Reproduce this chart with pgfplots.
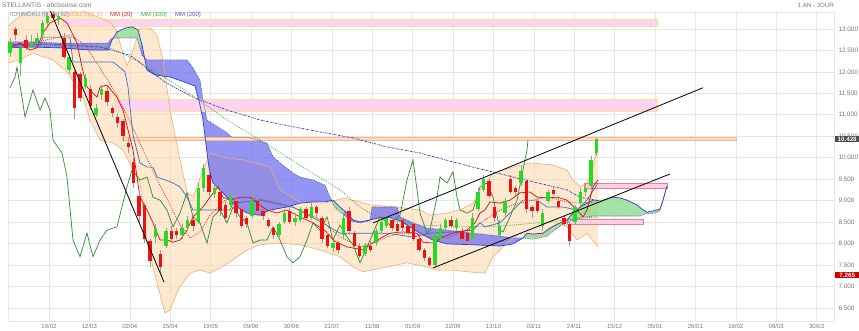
\documentclass[border=0pt]{standalone}
\usepackage{fontspec}
\setmainfont{Liberation Sans}
\usepackage{pgfplots}
\pgfplotsset{compat=1.18}
\usepgfplotslibrary{fillbetween}
\usepackage{pgfplotstable}

\definecolor{gridc}{HTML}{E6E6E6}
\definecolor{bbfill}{HTML}{FCD8B0}
\definecolor{bbline}{HTML}{F2AE74}
\definecolor{cloudblue}{HTML}{7070EE}
\definecolor{cloudgreen}{HTML}{8EDB8E}
\definecolor{spanA}{HTML}{2A3FCC}
\definecolor{mmtwo}{HTML}{2B2BB8}
\definecolor{mmone}{HTML}{30B030}
\definecolor{mmred}{HTML}{E82020}
\definecolor{tenkan}{HTML}{CC1111}
\definecolor{kijun}{HTML}{3A70B5}
\definecolor{chikou}{HTML}{2E8B2E}
\definecolor{cgreen}{HTML}{22DD22}
\definecolor{cred}{HTML}{EE1111}
\definecolor{zonepink}{HTML}{FCD3F0}
\definecolor{zoneyel}{HTML}{FFE08A}
\definecolor{zoneor}{HTML}{FBDCC4}
\definecolor{zoneorb}{HTML}{F4B88A}
\definecolor{zonepk}{HTML}{FFD0E4}
\definecolor{zonepkb}{HTML}{EE7E96}
\definecolor{txtgray}{HTML}{777777}

\pgfplotstableread{
i o h l c
0 12.45 12.80 12.35 12.70
1 13.00 13.05 12.75 12.85
2 12.20 12.60 11.90 12.55
3 12.75 12.85 12.50 12.55
4 12.60 12.85 12.55 12.70
5 12.70 12.90 12.65 12.80
6 12.85 13.20 12.80 13.15
7 13.15 13.40 13.10 13.30
8 13.35 13.42 13.20 13.25
9 13.20 13.40 13.10 13.30
10 12.80 12.90 12.30 12.35
11 12.05 12.40 11.95 12.35
12 12.00 12.05 10.90 11.15
13 11.95 12.00 11.30 11.40
14 11.65 11.95 11.60 11.85
15 11.60 11.70 11.10 11.20
16 11.00 11.25 10.95 11.15
17 11.45 11.70 11.35 11.60
18 11.55 11.65 11.20 11.30
19 11.15 11.20 10.95 11.05
20 10.95 11.05 10.70 10.80
21 10.85 10.90 10.40 10.50
22 10.35 10.45 10.10 10.25
23 9.90 10.00 9.30 9.40
24 9.10 9.20 8.50 8.65
25 8.90 8.95 8.00 8.10
26 8.05 8.10 7.45 7.60
27 8.15 8.45 8.00 8.35
28 7.75 7.85 7.30 7.45
29 7.95 8.35 7.90 8.30
30 8.30 8.40 8.00 8.10
31 8.30 8.35 8.10 8.20
32 8.20 8.45 8.10 8.35
33 8.35 8.65 8.30 8.55
34 8.55 8.60 8.30 8.40
35 8.50 9.40 8.45 9.30
36 9.30 9.85 9.20 9.75
37 9.60 9.70 9.10 9.20
38 9.15 9.40 9.05 9.30
39 9.20 9.30 8.65 8.75
40 8.90 9.00 8.50 8.60
41 8.90 9.20 8.85 9.10
42 9.00 9.05 8.60 8.70
43 8.80 8.85 8.35 8.40
44 8.60 8.65 8.35 8.45
45 8.65 9.35 8.60 9.00
46 9.00 9.05 8.65 8.75
47 8.75 8.80 8.55 8.65
48 8.55 8.60 8.35 8.40
49 8.35 8.40 8.10 8.20
50 8.20 8.50 8.15 8.45
51 8.50 8.80 8.45 8.70
52 8.75 8.85 8.45 8.50
53 8.50 8.70 8.40 8.60
54 8.55 8.85 8.50 8.80
55 8.80 8.85 8.55 8.60
56 8.60 8.95 8.55 8.85
57 8.85 8.90 8.60 8.70
58 8.60 8.65 8.00 8.10
59 8.20 8.25 7.90 7.95
60 7.90 8.05 7.80 8.00
61 8.00 8.05 7.75 7.85
62 8.20 8.70 8.10 8.60
63 8.75 8.85 8.20 8.30
64 8.25 8.30 7.90 7.95
65 7.95 8.00 7.65 7.70
66 7.75 8.00 7.70 7.95
67 7.95 8.05 7.80 7.85
68 8.00 8.35 7.95 8.30
69 8.30 8.55 8.25 8.50
70 8.40 8.65 8.35 8.60
71 8.55 8.60 8.30 8.35
72 8.45 8.50 8.20 8.30
73 8.55 8.60 8.30 8.35
74 8.40 8.50 8.20 8.25
75 8.45 8.50 8.05 8.10
76 8.10 8.15 7.80 7.85
77 7.85 7.90 7.60 7.65
78 7.65 7.70 7.45 7.50
79 7.50 8.30 7.45 8.20
80 8.10 8.45 8.05 8.35
81 8.35 8.60 8.30 8.55
82 8.55 8.65 8.35 8.40
83 8.35 8.60 8.30 8.55
84 8.30 8.35 8.05 8.10
85 8.25 8.30 8.00 8.05
86 8.10 8.70 8.05 8.60
87 8.80 9.30 8.75 9.20
88 9.25 9.60 9.20 9.50
89 9.45 9.50 9.05 9.10
90 8.85 8.90 8.50 8.60
91 8.20 8.55 8.15 8.40
92 8.70 9.05 8.60 9.00
93 9.50 9.60 9.15 9.20
94 9.30 9.35 9.10 9.20
95 9.40 9.80 9.35 9.70
96 9.45 9.50 8.70 8.80
97 8.85 8.90 8.60 8.75
98 9.00 9.10 8.70 8.75
99 8.40 8.80 8.30 8.70
100 9.00 9.25 8.95 9.20
101 9.25 9.35 9.10 9.15
102 9.00 9.05 8.80 8.85
103 8.60 8.65 8.40 8.45
104 8.45 8.50 7.95 8.05
105 8.50 8.90 8.45 8.85
106 8.95 9.30 8.90 9.20
107 9.20 9.40 9.10 9.30
108 9.35 10.05 9.25 9.95
109 10.10 10.47 10.05 10.43
}\candles

\begin{document}
\begin{tikzpicture}[x=1pt,y=1pt]
\path (0,0) rectangle (859,331);
% legend row (drawn first so the chart covers it)
\begin{scope}[every node/.style={anchor=west, inner sep=0pt, font=\fontsize{6}{7}\selectfont}]
\node[text=kijun!80] at (10,316) {ICHIMOKU (9, 26, 52)};
\node[text=bbline] at (68,316) {BOLL (20, 2)};
\node[text=mmred] at (110,316) {MM (20)};
\node[text=mmone] at (141,316) {MM (100)};
\node[text=mmtwo!80] at (175,316) {MM (200)};
\end{scope}

\begin{axis}[
  at={(8pt,10pt)}, anchor=south west, scale only axis,
  width=826pt, height=309pt,
  xmin=8, xmax=834, ymin=6.193, ymax=13.396,
  axis line style={draw=gridc},
  tick style={draw=none},
  grid=major, major grid style={draw=gridc, line width=0.6pt},
  xtick={49,89.4,129.8,170.2,210.6,251,291.4,331.8,372.2,412.6,453,493.4,533.8,574.2,614.6,655,695.4,735.8,776.2,816.6},
  xticklabels={19/02,12/03,02/04,25/04,19/05,09/06,30/06,21/07,11/08,01/09,22/09,13/10,03/11,24/11,15/12,05/01,26/01,16/02,09/03,30/03},
  ytick={6.5,7,7.5,8,8.5,9,9.5,10,10.5,11,11.5,12,12.5,13},
  yticklabel pos=right,
  scaled y ticks=false,
  /pgf/number format/assume math mode=true,
  y tick label style={/pgf/number format/fixed, /pgf/number format/fixed zerofill, /pgf/number format/precision=3, /pgf/number format/assume math mode=true, font=\fontsize{6.4}{7}\selectfont, text=txtgray, xshift=1pt},
  x tick label style={font=\fontsize{6}{7}\selectfont, text=txtgray},
]
% zones
\addplot[fill=zonepink, draw=zoneyel, line width=0.6pt, forget plot] coordinates {(62,13.07) (657,13.07) (657,13.22) (62,13.22)} -- cycle;
\addplot[fill=zonepink, draw=zoneyel, line width=0.8pt, forget plot] coordinates {(114,11.07) (657,11.07) (657,11.36) (114,11.36)} -- cycle;
\addplot[fill=zoneor, draw=zoneorb, line width=0.6pt, forget plot] coordinates {(122,10.40) (736,10.40) (736,10.47) (122,10.47)} -- cycle;

% Bollinger
\addplot[name path=bbU, bbline, line width=0.6pt, forget plot] coordinates {
(8,13.07) (20,13.30) (35,13.49) (65,13.56) (85,13.40) (100,13.26) (110,13.16) (116,12.98) (122,12.51) (127,12.14) (133,12.51) (140,13.02) (150,13.02) (157,12.86) (163,12.28) (170,11.11) (180,9.95) (187,9.20) (193,9.08) (203,9.71) (210,10.11) (225,10.0) (243,9.95) (270,9.78) (280,9.25) (300,8.97) (325,8.94) (345,9.06) (370,8.90) (397,8.85) (420,8.78) (430,8.66) (447,8.71) (460,8.78) (473,8.94) (480,9.25) (493,9.64) (513,9.78) (530,9.88) (553,9.83) (567,9.71) (573,9.48) (580,9.32) (587,9.41) (593,9.78) (598,10.41)};
\addplot[name path=bbL, bbline, line width=0.6pt, forget plot] coordinates {
(8,12.21) (20,12.28) (33,12.44) (43,12.35) (53,12.28) (67,12.0) (83,11.41) (90,10.88) (100,10.41) (113,10.34) (123,10.18) (140,9.41) (147,8.01) (157,7.08) (165,6.38) (170,6.45) (175,6.75) (180,6.99) (190,7.31) (200,7.38) (210,7.31) (220,7.43) (230,7.57) (247,7.85) (260,7.97) (277,8.01) (300,7.97) (320,7.85) (340,7.69) (353,7.45) (363,7.34) (387,7.45) (407,7.55) (427,7.45) (437,7.38) (453,7.38) (467,7.34) (485,7.31) (493,7.69) (507,8.01) (520,8.24) (533,8.15) (547,8.24) (557,8.48) (567,8.39) (577,8.08) (587,8.24) (598,7.92)};
\addplot[bbfill, fill opacity=0.6, forget plot] fill between[of=bbU and bbL];

% small zones
\addplot[fill=zonepk, draw=zonepkb, line width=0.6pt, forget plot] coordinates {(584,9.29) (667,9.29) (667,9.40) (584,9.40)} -- cycle;
\addplot[fill=zonepk, draw=zonepkb, line width=0.6pt, forget plot] coordinates {(567,8.45) (643,8.45) (643,8.56) (567,8.56)} -- cycle;

% Ichimoku cloud
\addplot[name path=spA, spanA, line width=0.7pt, forget plot] coordinates {
(8,12.56) (30,12.58) (60,12.56) (90,12.51) (108,12.51) (112,12.74) (117,12.93) (125,13.02) (132,13.05) (138,12.98) (142,12.63) (147,12.04) (155,11.93) (170,11.88) (185,11.76) (195,11.67) (200,11.23) (203,10.88) (206,10.30) (209,9.76) (213,9.41) (220,9.25) (227,9.08) (237,8.85) (247,8.71) (260,8.66) (270,8.78) (287,8.85) (300,8.94) (313,8.97) (325,8.97) (333,9.01) (340,8.85) (347,8.71) (353,8.55) (360,8.50) (370,8.55) (380,8.60) (390,8.60) (400,8.53) (410,8.39) (420,8.24) (433,8.08) (447,7.99) (473,7.97) (500,7.94) (513,7.99) (523,8.13) (527,8.24) (533,8.22) (543,8.24) (550,8.36) (560,8.48) (567,8.55) (573,8.71) (580,8.85) (587,8.94) (593,9.01) (603,9.01) (613,9.08) (620,9.06) (627,9.01) (637,8.90) (642,8.80) (647,8.73) (653,8.76) (660,8.80) (663,9.01) (667,9.34)};
\addplot[name path=spB, spanA, line width=0.6pt, dash pattern=on 0.8pt off 1pt, forget plot] coordinates {
(8,12.70) (30,12.70) (60,12.67) (90,12.67) (108,12.67) (112,12.79) (137,12.79) (142,12.39) (147,12.28) (187,12.28) (193,12.09) (197,11.93) (200,11.81) (203,11.35) (207,10.88) (227,10.58) (232,10.48) (247,10.48) (267,10.34) (273,10.02) (280,9.88) (293,9.64) (300,9.55) (313,9.48) (325,9.36) (330,9.08) (335,8.83) (343,8.69) (350,8.53) (360,8.48) (370,8.53) (372,8.85) (397,8.85) (400,8.62) (413,8.48) (427,8.36) (447,8.31) (473,8.24) (500,8.17) (513,8.13) (523,8.13) (533,8.10) (547,8.17) (560,8.41) (567,8.50) (580,8.60) (593,8.64) (640,8.64) (645,8.69) (655,8.71) (660,8.76) (667,9.34)};
\addplot[cloudblue, fill opacity=0.75, forget plot] fill between[of=spA and spB, soft clip={domain=8:112}];
\addplot[cloudgreen, fill opacity=0.8, forget plot] fill between[of=spA and spB, soft clip={domain=112:141}];
\addplot[cloudblue, fill opacity=0.75, forget plot] fill between[of=spA and spB, soft clip={domain=141:332}];
\addplot[cloudgreen, fill opacity=0.8, forget plot] fill between[of=spA and spB, soft clip={domain=332:344}];
\addplot[cloudblue, fill opacity=0.75, forget plot] fill between[of=spA and spB, soft clip={domain=344:523}];
\addplot[cloudgreen, fill opacity=0.8, forget plot] fill between[of=spA and spB, soft clip={domain=523:667}];

% MM 200
\addplot[mmtwo, line width=0.7pt, dash pattern=on 2pt off 1pt on 0.6pt off 1pt, forget plot] coordinates {
(8,12.63) (50,12.65) (100,12.58) (130,12.39) (165,11.76) (193,11.41) (227,11.11) (260,10.88) (293,10.72) (325,10.58) (353,10.46) (387,10.25) (420,10.11) (453,9.90) (485,9.71) (513,9.55) (547,9.36) (567,9.25) (580,9.08) (598,9.0)};
% MM 100
\addplot[mmone, line width=0.7pt, dash pattern=on 0.9pt off 1.2pt, forget plot] coordinates {
(8,12.56) (60,12.63) (110,12.56) (140,12.23) (160,11.93) (180,11.65) (227,10.88) (270,10.27) (300,9.82) (325,9.46) (340,9.25) (360,8.85) (370,8.71) (387,8.55) (407,8.48) (420,8.43) (440,8.41) (460,8.39) (485,8.39) (513,8.43) (547,8.50) (567,8.55) (587,8.60) (598,8.62)};
% MM 20 (dotted red)
\addplot[mmred, line width=0.7pt, dash pattern=on 0.9pt off 1.2pt, forget plot] coordinates {
(8,12.56) (30,12.65) (55,12.79) (70,12.86) (85,12.63) (100,12.09) (117,11.46) (133,10.69) (150,9.83) (160,9.36) (170,8.90) (180,8.43) (190,8.13) (200,8.27) (210,8.66) (225,9.01) (245,9.08) (265,9.01) (285,8.90) (300,8.78) (320,8.55) (340,8.15) (360,7.92) (373,8.01) (387,8.15) (400,8.24) (413,8.24) (430,8.15) (447,8.13) (460,8.24) (473,8.36) (485,8.55) (500,8.78) (513,8.90) (547,9.08) (567,8.97) (580,8.94) (598,8.97)};
% Chikou
\addplot[chikou, line width=0.7pt, forget plot] coordinates {
(10,11.63) (15,11.88) (17,12.11) (22,11.41) (25,10.95) (33,11.58) (40,11.11) (45,11.39) (50,11.11) (53,10.41) (62,10.11) (67,9.55) (73,8.08) (80,7.69) (87,8.24) (93,7.69) (100,8.08) (107,8.31) (117,8.39) (127,9.32) (132,9.71) (140,9.48) (147,9.55) (153,9.08) (160,9.01) (167,8.78) (173,8.39) (180,8.71) (187,9.18) (193,8.62) (200,8.48) (207,8.01) (213,8.62) (220,8.78) (227,8.48) (233,8.85) (240,8.62) (247,8.48) (253,8.01) (260,8.08) (267,8.08) (273,8.39) (280,8.08) (287,7.69) (293,7.55) (300,7.69) (307,8.08) (313,8.48) (320,8.31) (327,8.62) (333,8.08) (340,8.43) (347,8.15) (353,7.97) (360,7.55) (367,7.92) (373,8.24) (380,8.62) (390,8.43) (400,8.66) (407,9.48) (413,9.95) (417,9.25) (420,8.71) (427,8.24) (430,8.31) (437,9.08) (440,9.55) (447,9.41) (453,9.67) (457,9.08) (460,8.78) (467,8.71) (473,8.78) (477,9.08) (480,9.32) (487,9.41) (493,9.08) (500,8.31) (503,8.27) (510,8.62) (517,9.01) (522,9.60) (527,10.18) (528,10.41)};
% Kijun
\addplot[kijun, line width=0.7pt, forget plot] coordinates {
(8,12.63) (40,12.63) (43,12.81) (70,12.81) (73,12.23) (113,12.23) (117,12.16) (125,12.00) (128,11.65) (130,11.18) (133,10.53) (140,9.88) (147,9.78) (153,9.78) (157,9.55) (165,9.48) (173,9.41) (180,9.32) (187,9.08) (193,8.78) (230,8.78) (233,8.94) (260,9.01) (293,8.85) (325,8.45) (340,8.24) (387,8.24) (413,8.15) (430,8.24) (453,8.27) (473,8.31) (480,8.48) (485,8.39) (500,8.48) (513,8.78) (523,9.01) (537,9.01) (547,8.85) (563,8.85) (577,8.78) (587,9.01) (598,9.41)};
% Tenkan (solid red)
\addplot[tenkan, line width=0.7pt, forget plot] coordinates {
(10,12.56) (20,12.67) (30,12.51) (37,12.56) (43,12.91) (50,13.14) (60,13.26) (67,13.14) (72,12.91) (77,12.67) (82,12.11) (87,11.65) (97,11.41) (100,11.65) (107,11.69) (117,11.41) (123,11.11) (128,10.65) (133,10.18) (137,9.55) (140,9.08) (147,8.78) (153,8.48) (160,8.08) (167,8.08) (173,8.03) (180,8.08) (187,8.31) (193,8.62) (203,8.85) (210,9.08) (218,9.32) (223,9.08) (230,9.01) (240,9.08) (250,9.08) (257,8.94) (267,8.78) (277,8.71) (287,8.78) (300,8.62) (313,8.48) (325,8.30) (335,8.05) (347,7.92) (363,7.85) (377,8.08) (390,8.24) (403,8.27) (417,8.24) (423,8.03) (433,8.01) (443,8.15) (453,8.24) (467,8.31) (475,8.48) (480,8.71) (485,8.78) (490,8.97) (500,8.94) (510,9.01) (520,9.18) (530,9.20) (537,9.08) (547,9.06) (557,9.08) (567,9.01) (577,8.78) (583,8.62) (587,8.78) (593,9.32) (598,9.48)};

% candles: wicks
\addplot[draw=none, mark=none, forget plot,
  error bars/.cd, y dir=both, y explicit, error mark=none,
  error bar style={draw=black!40, line width=0.6pt, solid}]
  table[x expr={10+5.38*\thisrow{i}}, y expr={(\thisrow{h}+\thisrow{l})/2}, y error expr={(\thisrow{h}-\thisrow{l})/2}] {\candles};
% up bodies
\addplot[draw=none, mark=none, forget plot, unbounded coords=discard,
  error bars/.cd, y dir=both, y explicit, error mark=none,
  error bar style={draw=cgreen, line width=3.4pt, solid}]
  table[x expr={10+5.38*\thisrow{i}}, y expr={\thisrow{c}>=\thisrow{o} ? (\thisrow{o}+\thisrow{c})/2 : nan}, y error expr={max(abs(\thisrow{c}-\thisrow{o})/2,0.012)}] {\candles};
% down bodies
\addplot[draw=none, mark=none, forget plot, unbounded coords=discard,
  error bars/.cd, y dir=both, y explicit, error mark=none,
  error bar style={draw=cred, line width=3.4pt, solid}]
  table[x expr={10+5.38*\thisrow{i}}, y expr={\thisrow{c}<\thisrow{o} ? (\thisrow{o}+\thisrow{c})/2 : nan}, y error expr={max(abs(\thisrow{c}-\thisrow{o})/2,0.012)}] {\candles};

% trend lines
\addplot[black, line width=0.8pt, forget plot] coordinates {(50,13.44) (164,7.10)};
\addplot[black, line width=0.8pt, forget plot] coordinates {(433,7.43) (670,9.62)};
\addplot[black, line width=0.8pt, forget plot] coordinates {(373,8.48) (703,11.63)};

\coordinate (labA) at (axis cs:834,10.428);
\coordinate (labB) at (axis cs:834,7.265);
\end{axis}

\node[fill=black!70, text=white, anchor=west, inner sep=0.6pt, minimum width=24pt, minimum height=6.2pt, font=\fontsize{6.2}{6.5}\selectfont\bfseries] at ([xshift=1pt]labA) {10.428};
\node[fill=red!80!black, text=white, anchor=west, inner sep=0.6pt, minimum width=24pt, minimum height=6.2pt, font=\fontsize{6.2}{6.5}\selectfont\bfseries] at ([xshift=1pt]labB) {7.265};

\node[anchor=west, inner sep=0pt, text=txtgray, font=\fontsize{6.5}{7}\selectfont] at (2,326) {STELLANTIS - abcbourse.com};
\node[anchor=east, inner sep=0pt, text=txtgray, font=\fontsize{6.2}{7}\selectfont] at (834,326) {1 AN - JOUR};

\pgfresetboundingbox
\path[use as bounding box] (0,0) rectangle (859,331);
\end{tikzpicture}
\end{document}
